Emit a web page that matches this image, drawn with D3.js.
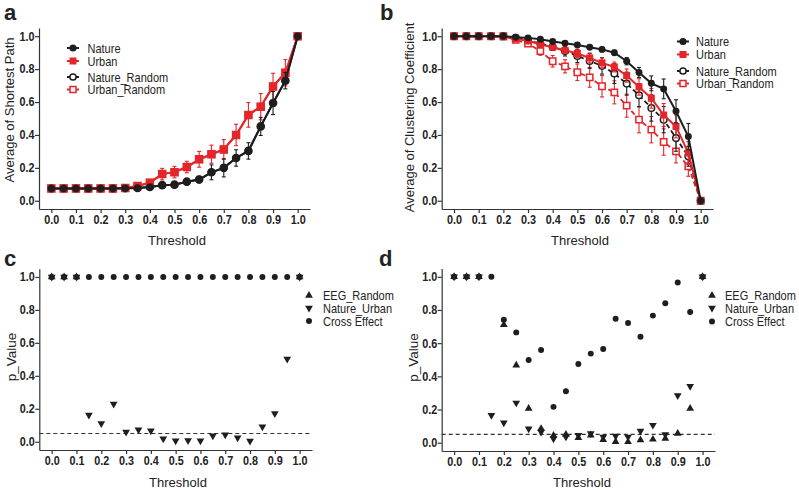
<!DOCTYPE html>
<html><head><meta charset="utf-8">
<script src="https://cdn.jsdelivr.net/npm/d3@7"></script>
<style>
body{margin:0;background:#fff}
svg{display:block}
text{font-family:Arial,"Liberation Sans",sans-serif;fill:#222}
</style>
</head><body>
<svg id="chart" width="799" height="492"></svg>
<script>
// ---------- data ----------
const thresholds = [0.00,0.05,0.10,0.15,0.20,0.25,0.30,0.35,0.40,0.45,0.50,0.55,0.60,0.65,0.70,0.75,0.80,0.85,0.90,0.95,1.00];
const xTickValues = [0.0,0.1,0.2,0.3,0.4,0.5,0.6,0.7,0.8,0.9,1.0];
const yTickValues = [0.0,0.2,0.4,0.6,0.8,1.0];

// panel a: Average of Shortest Path
const aNature        = [0.075,0.075,0.075,0.075,0.075,0.075,0.076,0.078,0.084,0.095,0.098,0.116,0.129,0.173,0.200,0.260,0.303,0.452,0.594,0.730,1.000];
const aNatureErr     = [0,0,0,0,0,0,0.002,0.003,0.006,0.008,0.010,0.018,0.020,0.045,0.055,0.050,0.050,0.055,0.070,0.050,0];
const aUrban         = [0.075,0.075,0.075,0.075,0.075,0.075,0.077,0.090,0.110,0.162,0.174,0.205,0.252,0.283,0.312,0.400,0.522,0.572,0.695,0.778,1.000];
const aUrbanErr      = [0,0,0,0,0,0,0.003,0.008,0.012,0.035,0.035,0.035,0.048,0.055,0.060,0.065,0.075,0.080,0.080,0.080,0];
const aNatureRandom  = [0.075,0.075,0.075,0.075,0.075,0.075,0.076,0.078,0.084,0.095,0.098,0.116,0.129,0.173,0.200,0.260,0.303,0.452,0.594,0.730,1.000];
const aUrbanRandom   = [0.075,0.075,0.075,0.075,0.075,0.075,0.077,0.090,0.110,0.162,0.174,0.205,0.252,0.283,0.312,0.400,0.522,0.572,0.695,0.778,1.000];

// panel b: Average of Clustering Coefficient
const bNature          = [1,1,1,1,1,0.994,0.990,0.982,0.968,0.957,0.947,0.933,0.920,0.900,0.848,0.780,0.714,0.680,0.544,0.390,0];
const bNatureErr       = [0,0,0,0,0,0.003,0.004,0.005,0.007,0.008,0.010,0.012,0.014,0.015,0.022,0.030,0.045,0.060,0.070,0.080,0];
const bUrban           = [1,1,1,1,0.996,0.984,0.972,0.950,0.933,0.915,0.895,0.868,0.838,0.813,0.761,0.692,0.623,0.521,0.452,0.290,0];
const bUrbanErr        = [0,0,0,0,0.004,0.006,0.008,0.010,0.015,0.020,0.025,0.030,0.030,0.030,0.040,0.050,0.060,0.070,0.070,0.070,0];
const bNatureRandom    = [1,1,1,1,1,0.990,0.975,0.955,0.935,0.910,0.880,0.850,0.820,0.773,0.712,0.641,0.564,0.493,0.381,0.270,0];
const bNatureRandomErr = [0,0,0,0,0,0.005,0.010,0.015,0.020,0.030,0.040,0.045,0.050,0.060,0.070,0.070,0.080,0.080,0.080,0.060,0];
const bUrbanRandom     = [1,1,1,1,1,0.978,0.955,0.909,0.848,0.817,0.781,0.750,0.696,0.659,0.578,0.493,0.432,0.357,0.300,0.209,0];
const bUrbanRandomErr  = [0,0,0,0,0,0.008,0.015,0.025,0.035,0.040,0.050,0.060,0.065,0.070,0.070,0.080,0.080,0.080,0.070,0.060,0];

// panel c: p values
const cEEGRandom   = [1,1,1,null,null,null,null,null,null,null,null,null,null,null,null,null,null,null,null,null,1];
const cNatureUrban = [1,1,1,0.162,0.111,0.229,0.059,0.073,0.067,0.018,0.006,0.008,0.006,0.036,0.043,0.024,0.004,0.091,0.172,0.502,1];
const cCross       = [1,1,1,1,1,1,1,1,1,1,1,1,1,1,1,1,1,1,1,1,1];

// panel d: p values
const dEEGRandom   = [1,1,1,null,0.711,0.467,0.206,0.085,0.044,0.050,0.030,0.045,0.018,0.006,0.005,0.016,0.020,0.025,0.056,0.206,1];
const dNatureUrban = [1,1,1,0.166,0.120,0.240,0.084,0.065,0.024,0.035,0.045,0.055,0.035,0.040,0.035,0.070,0.106,0.050,0.285,0.340,1];
const dCross       = [1,1,1,1,0.741,0.665,0.499,0.559,0.216,0.310,0.475,0.537,0.565,0.747,0.721,0.639,0.766,0.840,0.966,0.788,1];

const pThreshold = 0.05;

// ---------- drawing ----------
const RED = "#e4262b", BLK = "#1e1e1e", AX = "#333";
const svg = d3.select("#chart");

function makePanel(p){
  const g = svg.append("g");
  const x = d3.scaleLinear().domain([-0.05,1.05]).range([p.x0,p.x1]);
  const y = d3.scaleLinear().domain([-0.05,1.05]).range([p.y0,p.y1]);
  const fmt = d3.format(".1f");
  const xa = g.append("g").attr("transform",`translate(0,${p.y0})`)
    .call(d3.axisBottom(x).tickValues(xTickValues).tickFormat(fmt).tickSize(4).tickSizeOuter(0).tickPadding(2));
  const ya = g.append("g").attr("transform",`translate(${p.x0},0)`)
    .call(d3.axisLeft(y).tickValues(yTickValues).tickFormat(fmt).tickSize(4).tickSizeOuter(0).tickPadding(1));
  [xa,ya].forEach(a=>{
    a.select(".domain").attr("stroke",AX).attr("stroke-width",1.2);
    a.selectAll(".tick line").attr("stroke",AX).attr("stroke-width",1.2);
    a.selectAll(".tick text").attr("font-size","12px").attr("font-weight","bold")
      .attr("fill","#222").attr("font-family","Arial, 'Liberation Sans', sans-serif")
      .attr("transform","scale(0.9,1)");
  });
  // x title
  g.append("text").attr("x",p.xtx).attr("y",p.xty).attr("text-anchor","middle")
    .attr("font-size","13px").text("Threshold");
  // y title
  g.append("text").attr("transform",`translate(${p.ytx},${p.yty}) rotate(-90)`)
    .attr("text-anchor","middle").attr("font-size",p.ytSize||"13px").text(p.ytitle);
  // panel letter
  g.append("text").attr("x",p.lx).attr("y",p.ly).attr("font-size","22px")
    .attr("font-weight","bold").text(p.letter);
  return {g,x,y};
}

function drawSeries(P, vals, errs, o){
  const {g,x,y} = P;
  const pts = thresholds.map((t,i)=>({t,v:vals[i],e:errs?errs[i]:0})).filter(d=>d.v!=null);
  if(o.line){
    g.append("path").datum(pts)
      .attr("d",d3.line().x(d=>x(d.t)).y(d=>y(d.v)))
      .attr("fill","none").attr("stroke",o.color).attr("stroke-width",o.lw||2)
      .attr("stroke-dasharray",o.dash||null);
  }
  if(errs){
    const eg = g.append("g").attr("stroke",o.color).attr("stroke-width",1.1);
    pts.filter(d=>d.e>0).forEach(d=>{
      const cx = x(d.t), y1 = y(d.v-d.e), y2 = y(d.v+d.e);
      eg.append("line").attr("x1",cx).attr("x2",cx).attr("y1",y1).attr("y2",y2);
      eg.append("line").attr("x1",cx-2).attr("x2",cx+2).attr("y1",y1).attr("y2",y1);
      eg.append("line").attr("x1",cx-2).attr("x2",cx+2).attr("y1",y2).attr("y2",y2);
    });
  }
  const sym = d3.symbol().type(o.symbol).size(o.size);
  g.append("g").selectAll("path").data(pts).join("path")
    .attr("d",sym)
    .attr("transform",d=>`translate(${x(d.t)},${y(d.v)})${o.rotate?" rotate(180)":""}`)
    .attr("fill",o.fill).attr("stroke",o.stroke||"none").attr("stroke-width",o.sw||0);
}

function lineLegend(items, cx, tx){
  items.forEach(it=>{
    const gg = svg.append("g");
    gg.append("line").attr("x1",cx-6).attr("x2",cx+6).attr("y1",it.y).attr("y2",it.y)
      .attr("stroke",it.color).attr("stroke-width",2);
    gg.append("path").attr("d",d3.symbol().type(it.symbol).size(it.size)())
      .attr("transform",`translate(${cx},${it.y})`)
      .attr("fill",it.fill).attr("stroke",it.stroke||"none").attr("stroke-width",it.sw||0);
    gg.append("text").attr("transform",`translate(${tx},${it.y+4.5}) scale(0.88,1)`)
      .attr("font-size","12.5px").text(it.label);
  });
}

function symLegend(items, cx, tx){
  items.forEach(it=>{
    svg.append("path").attr("d",d3.symbol().type(it.symbol).size(it.size)())
      .attr("transform",`translate(${cx},${it.y})${it.rotate?" rotate(180)":""}`).attr("fill",BLK);
    svg.append("text").attr("transform",`translate(${tx},${it.y+4.5}) scale(0.88,1)`)
      .attr("font-size","12.5px").text(it.label);
  });
}

// ---- panel a ----
const A = makePanel({x0:39,x1:310,y0:209,y1:28,xtx:177,xty:244.5,ytx:14,yty:110,
  ytitle:"Average of Shortest Path",letter:"a",lx:4,ly:20});
drawSeries(A,aNatureRandom,null,{color:BLK,line:true,symbol:d3.symbolCircle,size:40,fill:"#fff",stroke:BLK,sw:1.5});
drawSeries(A,aUrbanRandom,null,{color:RED,line:true,symbol:d3.symbolSquare,size:49,fill:"#fff",stroke:RED,sw:1.5});
drawSeries(A,aUrban,aUrbanErr,{color:RED,line:true,symbol:d3.symbolSquare,size:60,fill:RED});
drawSeries(A,aNature,aNatureErr,{color:BLK,line:true,symbol:d3.symbolCircle,size:44,fill:BLK});
lineLegend([
  {label:"Nature",y:48,color:BLK,symbol:d3.symbolCircle,size:40,fill:BLK},
  {label:"Urban",y:61,color:RED,symbol:d3.symbolSquare,size:49,fill:RED},
  {label:"Nature_Random",y:77,color:BLK,symbol:d3.symbolCircle,size:30,fill:"#fff",stroke:BLK,sw:1.5},
  {label:"Urban_Random",y:89.5,color:RED,symbol:d3.symbolSquare,size:36,fill:"#fff",stroke:RED,sw:1.5}
],73,87.5);

// ---- panel b ----
const B = makePanel({x0:441.7,x1:713,y0:209,y1:28,xtx:580,xty:244.5,ytx:414,yty:117.5,
  ytitle:"Average of Clustering Coefficient",letter:"b",lx:380,ly:20});
drawSeries(B,bUrbanRandom,bUrbanRandomErr,{color:RED,line:true,lw:1.8,dash:"5,3",symbol:d3.symbolSquare,size:40,fill:"#fff",stroke:RED,sw:1.5});
drawSeries(B,bNatureRandom,bNatureRandomErr,{color:BLK,line:true,lw:1.8,dash:"5,3",symbol:d3.symbolCircle,size:34,fill:"#fff",stroke:BLK,sw:1.5});
drawSeries(B,bUrban,bUrbanErr,{color:RED,line:true,symbol:d3.symbolSquare,size:49,fill:RED});
drawSeries(B,bNature,bNatureErr,{color:BLK,line:true,symbol:d3.symbolCircle,size:38,fill:BLK});
lineLegend([
  {label:"Nature",y:41.5,color:BLK,symbol:d3.symbolCircle,size:40,fill:BLK},
  {label:"Urban",y:54.5,color:RED,symbol:d3.symbolSquare,size:49,fill:RED},
  {label:"Nature_Random",y:71,color:BLK,symbol:d3.symbolCircle,size:30,fill:"#fff",stroke:BLK,sw:1.5},
  {label:"Urban_Random",y:83.5,color:RED,symbol:d3.symbolSquare,size:36,fill:"#fff",stroke:RED,sw:1.5}
],683,696);

// ---- panel c ----
const C = makePanel({x0:39.3,x1:312,y0:450,y1:268.7,xtx:178,xty:486.5,ytx:16,yty:357,
  ytitle:"p_Value",ytSize:"13.5px",letter:"c",lx:4,ly:266});
C.g.append("line").attr("x1",39.3).attr("x2",312).attr("y1",C.y(pThreshold)).attr("y2",C.y(pThreshold))
  .attr("stroke",AX).attr("stroke-width",1.2).attr("stroke-dasharray","4,3");
drawSeries(C,cCross,null,{symbol:d3.symbolCircle,size:28,fill:BLK});
drawSeries(C,cEEGRandom,null,{symbol:d3.symbolTriangle,size:26,fill:BLK});
drawSeries(C,cNatureUrban,null,{symbol:d3.symbolTriangle,size:26,fill:BLK,rotate:true});
symLegend([
  {label:"EEG_Random",y:295.5,symbol:d3.symbolTriangle,size:26},
  {label:"Nature_Urban",y:308,symbol:d3.symbolTriangle,size:26,rotate:true},
  {label:"Cross Effect",y:321,symbol:d3.symbolCircle,size:28}
],309,323);

// ---- panel d ----
const D = makePanel({x0:441.7,x1:715,y0:451,y1:268.5,xtx:582,xty:486.5,ytx:418,yty:357.5,
  ytitle:"p_Value",ytSize:"13.5px",letter:"d",lx:379,ly:266});
D.g.append("line").attr("x1",441.7).attr("x2",715).attr("y1",D.y(pThreshold)).attr("y2",D.y(pThreshold))
  .attr("stroke",AX).attr("stroke-width",1.2).attr("stroke-dasharray","4,3");
drawSeries(D,dCross,null,{symbol:d3.symbolCircle,size:28,fill:BLK});
drawSeries(D,dEEGRandom,null,{symbol:d3.symbolTriangle,size:26,fill:BLK});
drawSeries(D,dNatureUrban,null,{symbol:d3.symbolTriangle,size:26,fill:BLK,rotate:true});
symLegend([
  {label:"EEG_Random",y:295.5,symbol:d3.symbolTriangle,size:26},
  {label:"Nature_Urban",y:308,symbol:d3.symbolTriangle,size:26,rotate:true},
  {label:"Cross Effect",y:321.5,symbol:d3.symbolCircle,size:28}
],712,725);
</script>
</body></html>
